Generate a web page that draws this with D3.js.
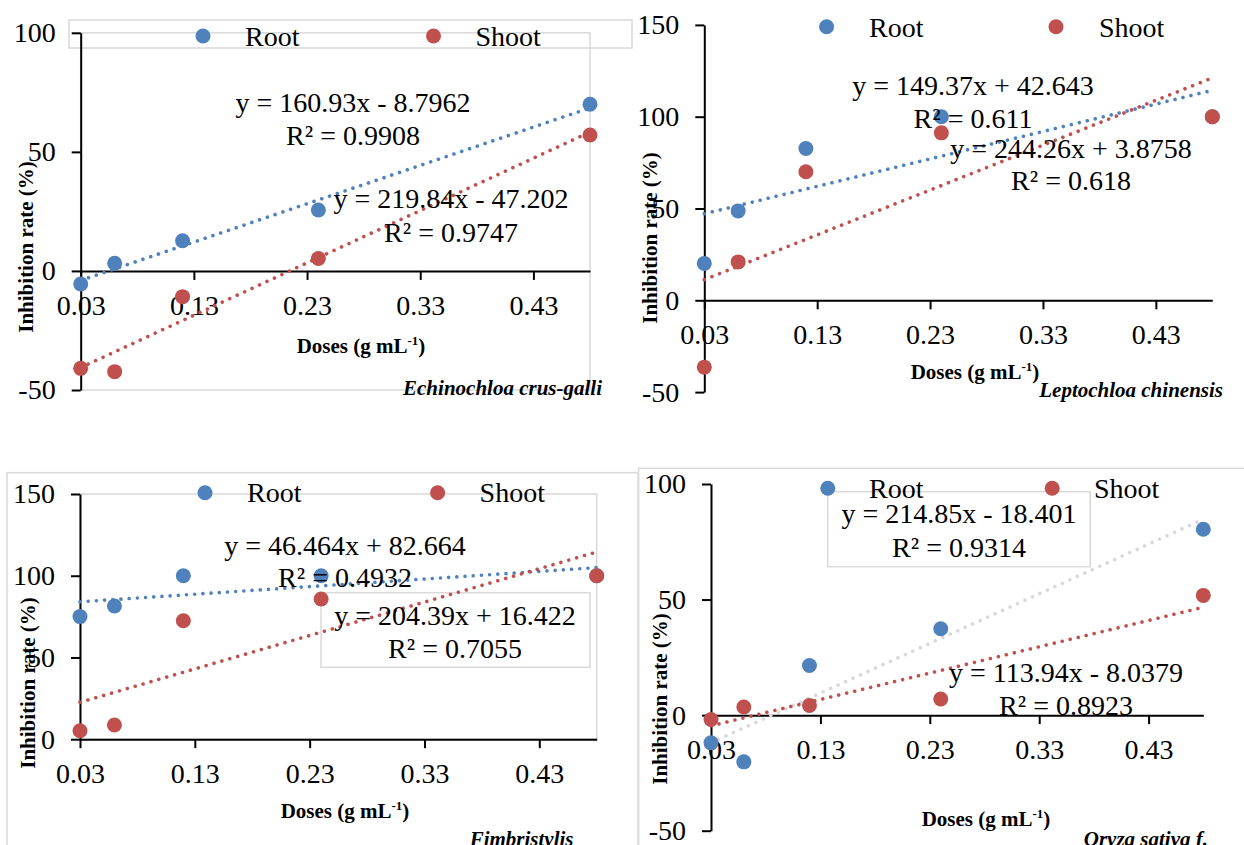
<!DOCTYPE html>
<html>
<head>
<meta charset="utf-8">
<script src="https://cdn.jsdelivr.net/npm/d3@7"></script>
<style>
  html, body { margin: 0; padding: 0; background: #fff; }
  svg { display: block; font-family: "Liberation Serif", "Times New Roman", serif; }
</style>
</head>
<body>
<script>
// doses and axis ticks
const doses = [0.03, 0.06, 0.12, 0.24, 0.48];
const xTicks = [0.03, 0.13, 0.23, 0.33, 0.43];
const xDomain = [0.03, 0.48];

const species = ["Echinochloa crus-galli", "Leptochloa chinensis", "Fimbristylis", "Oryza sativa f."];

// inhibition rate (%) per panel
const rootValues = [
  [-5.5, 3.2, 12.7, 25.6, 70.0],
  [20.1, 48.7, 82.7, 100, 100],
  [75.0, 81.5, 100, 100, 100],
  [-12.0, -20.2, 21.5, 37.4, 80.4]
];
const shootValues = [
  [-40.9, -42.3, -10.8, 5.2, 57.1],
  [-36.4, 20.9, 70.0, 91.2, 100],
  [5.2, 8.7, 72.5, 85.8, 100],
  [-1.9, 3.5, 4.2, 7.0, 51.8]
];

// linear trendlines: slope, intercept, R²
const rootFits = [[160.93, -8.7962, 0.9908], [149.37, 42.643, 0.611], [46.464, 82.664, 0.4932], [214.85, -18.401, 0.9314]];
const shootFits = [[219.84, -47.202, 0.9747], [244.26, 3.8758, 0.618], [204.39, 16.422, 0.7055], [113.94, -8.0379, 0.8923]];

const yDomains = [[-50, 100], [-50, 150], [0, 150], [-50, 100]];
const yTicks = [[-50, 0, 50, 100], [-50, 0, 50, 100, 150], [0, 50, 100, 150], [-50, 0, 50, 100]];

const BLUE = "#4f81bd", RED = "#c0504d", GREY = "#d9d9d9";

// pixel layout of the four panels
const layout = [
  { xr: [80.7, 590], yr: [390, 32.8], plotBorder: true,
    leg: { y: 36, base: 45.5, root: 203, rootT: 245, shoot: 433.5, shootT: 475.5 },
    eqRoot: [353, 112, 145], eqShoot: [451, 208, 242],
    xTitle: [361, 353], yTitle: [33, 247], sp: [602, 395], rootTrend: BLUE },
  { xr: [704.3, 1212.3], yr: [392.1, 24.9], plotBorder: false,
    leg: { y: 26.7, base: 36.5, root: 826.6, rootT: 869, shoot: 1056, shootT: 1099 },
    eqRoot: [973, 95, 128], eqShoot: [1071, 158, 190],
    xTitle: [975, 379], yTitle: [657, 238], sp: [1223, 397], rootTrend: BLUE },
  { xr: [80, 596.7], yr: [739.2, 494], plotBorder: true,
    leg: { y: 492.7, base: 501.7, root: 205, rootT: 247, shoot: 437.6, shootT: 479.6 },
    eqRoot: [345, 555, 587], eqShoot: [455, 625, 658],
    xTitle: [345, 818], yTitle: [35, 683], sp: [573.5, 846], rootTrend: BLUE },
  { xr: [711, 1203.3], yr: [830.7, 484], plotBorder: false,
    leg: { y: 488.3, base: 498.3, root: 827.8, rootT: 869, shoot: 1052.2, shootT: 1094 },
    eqRoot: [959, 523, 557], eqShoot: [1066, 682, 715],
    xTitle: [986, 826], yTitle: [667, 699], sp: [1208, 846], rootTrend: GREY }
];

const svg = d3.select("body").append("svg")
  .attr("width", 1244).attr("height", 845);

// outer chart-area borders and boxes
svg.append("rect").attr("x", 69).attr("y", 20).attr("width", 563).attr("height", 28)
  .attr("fill", "none").attr("stroke", GREY).attr("stroke-width", 1.5);
svg.append("rect").attr("x", 7).attr("y", 472.7).attr("width", 631).attr("height", 400)
  .attr("fill", "none").attr("stroke", GREY).attr("stroke-width", 1.5);
svg.append("rect").attr("x", 638.6).attr("y", 468.3).attr("width", 620).attr("height", 400)
  .attr("fill", "none").attr("stroke", GREY).attr("stroke-width", 1.5);
// equation boxes
svg.append("rect").attr("x", 321).attr("y", 592.7).attr("width", 269).attr("height", 74.6)
  .attr("fill", "none").attr("stroke", GREY).attr("stroke-width", 1.5);
svg.append("rect").attr("x", 827.8).attr("y", 491.7).attr("width", 262.4).attr("height", 75)
  .attr("fill", "none").attr("stroke", GREY).attr("stroke-width", 1.5);

function eqText(fit) {
  const sign = fit[1] < 0 ? " - " : " + ";
  return `y = ${fit[0]}x${sign}${Math.abs(fit[1])}`;
}

layout.forEach((L, i) => {
  const x = d3.scaleLinear().domain(xDomain).range(L.xr);
  const y = d3.scaleLinear().domain(yDomains[i]).range(L.yr);
  const g = svg.append("g");

  if (L.plotBorder) {
    g.append("rect")
      .attr("x", L.xr[0]).attr("y", L.yr[1])
      .attr("width", L.xr[1] - L.xr[0]).attr("height", L.yr[0] - L.yr[1])
      .attr("fill", "none").attr("stroke", GREY).attr("stroke-width", 1.5);
  }

  // y axis
  const ya = g.append("g").attr("transform", `translate(${L.xr[0]},0)`)
    .call(d3.axisLeft(y).tickValues(yTicks[i]).tickSize(9).tickSizeOuter(0).tickPadding(16).tickFormat(d => String(d)));
  // x axis at y = 0
  const xa = g.append("g").attr("transform", `translate(0,${y(0)})`)
    .call(d3.axisBottom(x).tickValues(xTicks).tickSize(9).tickSizeOuter(0).tickPadding(15).tickFormat(d => d.toFixed(2)));
  [ya, xa].forEach(a => {
    a.select(".domain").attr("stroke", "#000").attr("stroke-width", 2);
    a.selectAll(".tick line").attr("stroke", "#000").attr("stroke-width", 2);
    a.selectAll(".tick text").attr("fill", "#000")
      .style("font-family", '"Liberation Serif", "Times New Roman", serif').style("font-size", "28px");
  });

  // trendlines
  const line = d3.line().x(d => x(d[0])).y(d => y(d[1]));
  [[rootFits[i], L.rootTrend], [shootFits[i], RED]].forEach(([fit, col]) => {
    g.append("path")
      .attr("d", line(xDomain.map(v => [v, fit[0] * v + fit[1]])))
      .attr("fill", "none").attr("stroke", col).attr("stroke-width", 3.6)
      .attr("stroke-linecap", "round").attr("stroke-dasharray", "0.01 8.2");
  });

  // points
  g.selectAll(".root").data(rootValues[i]).join("circle")
    .attr("cx", (d, j) => x(doses[j])).attr("cy", d => y(d)).attr("r", 7.5).attr("fill", BLUE);
  g.selectAll(".shoot").data(shootValues[i]).join("circle")
    .attr("cx", (d, j) => x(doses[j])).attr("cy", d => y(d)).attr("r", 7.5).attr("fill", RED);

  // legend
  const lg = L.leg;
  g.append("circle").attr("cx", lg.root).attr("cy", lg.y).attr("r", 7.5).attr("fill", BLUE);
  g.append("circle").attr("cx", lg.shoot).attr("cy", lg.y).attr("r", 7.5).attr("fill", RED);
  g.append("text").attr("x", lg.rootT).attr("y", lg.base).attr("font-size", 28).text("Root");
  g.append("text").attr("x", lg.shootT).attr("y", lg.base).attr("font-size", 28).text("Shoot");

  // equations
  [[rootFits[i], L.eqRoot], [shootFits[i], L.eqShoot]].forEach(([fit, p]) => {
    g.append("text").attr("x", p[0]).attr("y", p[1]).attr("font-size", 28)
      .attr("text-anchor", "middle").text(eqText(fit));
    g.append("text").attr("x", p[0]).attr("y", p[2]).attr("font-size", 28)
      .attr("text-anchor", "middle").text(`R² = ${fit[2]}`);
  });

  // axis titles
  const xt = g.append("text").attr("x", L.xTitle[0]).attr("y", L.xTitle[1])
    .attr("font-size", 21).attr("font-weight", "bold").attr("text-anchor", "middle");
  xt.append("tspan").text("Doses (g mL");
  xt.append("tspan").attr("font-size", 13).attr("dy", -8).text("-1");
  xt.append("tspan").attr("dy", 8).text(")");

  g.append("text")
    .attr("transform", `translate(${L.yTitle[0]},${L.yTitle[1]}) rotate(-90)`)
    .attr("font-size", 21).attr("font-weight", "bold").attr("text-anchor", "middle")
    .text("Inhibition rate (%)");

  // species name
  g.append("text").attr("x", L.sp[0]).attr("y", L.sp[1])
    .attr("font-size", 21).attr("font-weight", "bold").attr("font-style", "italic")
    .attr("text-anchor", "end").text(species[i]);
});
</script>
</body>
</html>
